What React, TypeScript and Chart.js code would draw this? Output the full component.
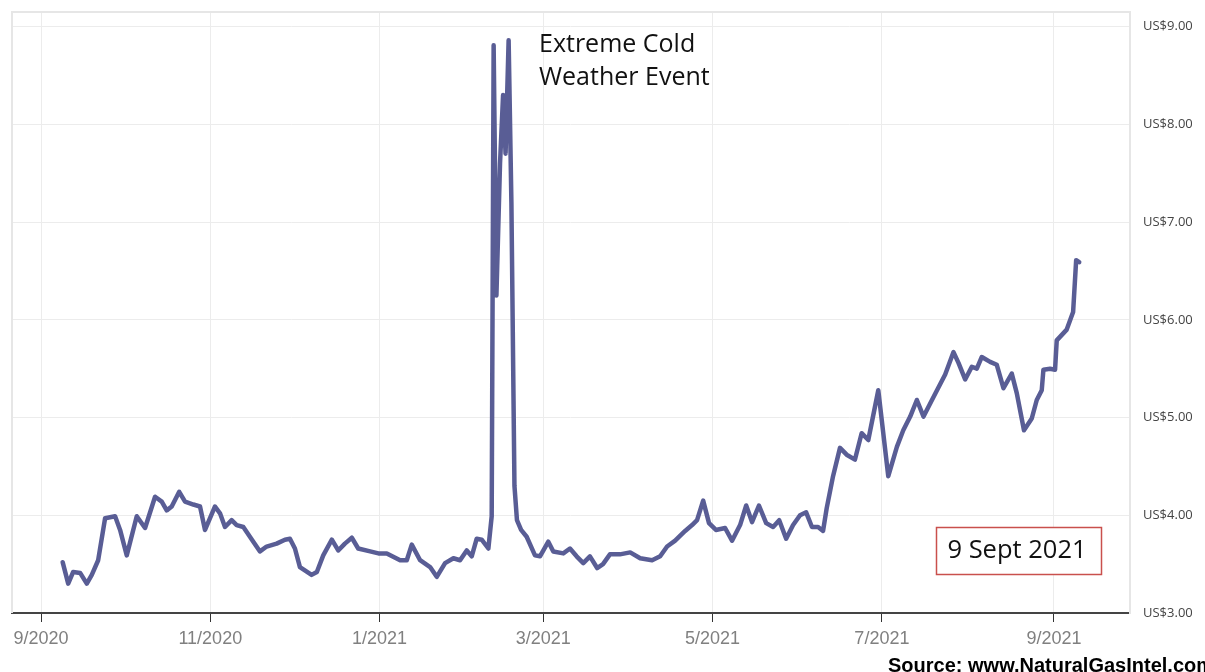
import React, { useEffect, useRef } from "react";
import { Chart, registerables } from "chart.js";

Chart.register(...registerables);

// Days since 1 Sep 2020
const dayOffsets = [
  7.8, 9.8, 11.6, 14.1, 16.5, 18.3, 20.6, 23.1, 26.7, 28.5, 30.9, 34.5, 37.5, 41.1, 43.5, 45.3, 47.1, 49.8,
  51.9, 54.9, 57.3, 59.1, 62.7, 64.5, 66.3, 68.7, 70.5, 72.9, 76.5, 78.9, 81.3, 84.9, 87.9, 89.7, 91.5,
  93.3, 97.5, 99.4, 101.7, 104.8, 107.1, 109.5, 112.0, 114.3, 118.6, 121.6, 124.6, 129.4, 131.8, 133.6,
  136.6, 140.2, 142.6, 145.6, 148.6, 151.0, 153.4, 155.2, 157.0, 158.8, 161.2, 162.4, 163.1, 164.1,
  165.4, 166.5, 167.4, 168.5, 169.5, 170.6, 171.5, 173.0, 175.0, 178.0, 179.8, 182.8, 184.6, 188.2,
  190.6, 193.0, 195.4, 197.8, 200.4, 202.5, 205.0, 208.6, 212.3, 215.9, 220.2, 223.1, 225.6, 228.5,
  232.1, 234.6, 236.4, 238.6, 240.7, 243.2, 246.5, 249.0, 251.9, 254.1, 256.2, 258.7, 261.3, 263.8,
  266.0, 268.5, 271.0, 273.5, 275.7, 277.8, 280.0, 281.8, 283.1, 285.4, 287.9, 290.3, 293.3, 295.7,
  298.1, 301.7, 305.3, 308.4, 310.7, 313.2, 315.6, 318.0, 321.6, 325.8, 328.8, 330.6, 333.0, 335.4,
  337.2, 339.0, 342.0, 344.4, 346.8, 349.8, 351.6, 354.2, 357.0, 358.8, 360.6, 361.2, 363.6, 365.4,
  366.0, 369.6, 371.9, 373.0, 374.1,
];

// Henry Hub spot price, US$/MMBtu
const prices = [
  3.52, 3.30, 3.42, 3.41, 3.30, 3.39, 3.54, 3.97, 3.99, 3.85, 3.59, 3.99, 3.87, 4.19, 4.14, 4.05, 4.09, 4.24,
  4.14, 4.11, 4.09, 3.85, 4.09, 4.02, 3.88, 3.95, 3.90, 3.88, 3.73, 3.63, 3.68, 3.71, 3.75, 3.76, 3.66,
  3.47, 3.39, 3.42, 3.59, 3.75, 3.64, 3.71, 3.77, 3.66, 3.63, 3.61, 3.61, 3.54, 3.54, 3.70,
  3.54, 3.47, 3.37, 3.51, 3.56, 3.54, 3.64, 3.58, 3.76, 3.75, 3.66, 3.99, 8.81, 6.25,
  7.6, 8.3, 7.7, 8.86, 7.2, 4.3, 3.95, 3.85, 3.78, 3.59, 3.58, 3.73, 3.63, 3.61,
  3.66, 3.58, 3.51, 3.58, 3.46, 3.50, 3.60, 3.60, 3.62, 3.56, 3.54, 3.58, 3.68, 3.74,
  3.84, 3.90, 3.95, 4.15, 3.92, 3.85, 3.87, 3.74, 3.90, 4.10, 3.93, 4.10, 3.92, 3.88,
  3.95, 3.76, 3.90, 4.00, 4.03, 3.88, 3.88, 3.84, 4.07, 4.40, 4.69, 4.62, 4.57, 4.84,
  4.77, 5.28, 4.40, 4.70, 4.87, 5.01, 5.18, 5.01, 5.21, 5.44, 5.67, 5.56, 5.39, 5.52,
  5.50, 5.62, 5.57, 5.54, 5.30, 5.45, 5.25, 4.87, 4.99, 5.18, 5.28, 5.49, 5.50, 5.49,
  5.79, 5.90, 6.08, 6.61, 6.59,
];

const tickDays = [0, 61, 122, 181, 242, 303, 365];
const tickLabels = ["9/2020", "11/2020", "1/2021", "3/2021", "5/2021", "7/2021", "9/2021"];
const yTicks = [3, 4, 5, 6, 7, 8, 9];
const annotationLines = ["Extreme Cold", "Weather Event"];
const dateBoxText = "9 Sept 2021";
const sourceText = "Source: www.NaturalGasIntel.com";

const decorPlugin = {
  id: "decor",
  beforeDatasetsDraw(chart: any) {
    const { ctx, chartArea } = chart;
    ctx.save();
    ctx.strokeStyle = "#e6e6e6";
    ctx.lineWidth = 2;
    ctx.beginPath();
    ctx.moveTo(chartArea.left, chartArea.bottom);
    ctx.lineTo(chartArea.left, chartArea.top);
    ctx.lineTo(chartArea.right, chartArea.top);
    ctx.stroke();
    ctx.restore();
  },
  afterDraw(chart: any) {
    const { ctx } = chart;
    ctx.save();
    ctx.fillStyle = "#111";
    ctx.textBaseline = "middle";
    ctx.textAlign = "left";
    ctx.font = '25px "Open Sans"';
    ctx.fillText(annotationLines[0], 539, 45);
    ctx.fillText(annotationLines[1], 539, 78);

    ctx.strokeStyle = "#c9504d";
    ctx.lineWidth = 1.5;
    ctx.fillStyle = "#fff";
    ctx.fillRect(936.5, 527.5, 165, 47);
    ctx.strokeRect(936.5, 527.5, 165, 47);
    ctx.fillStyle = "#111";
    ctx.textAlign = "center";
    ctx.font = '25.5px "Open Sans"';
    ctx.fillText(dateBoxText, 1017, 551);

    ctx.textAlign = "left";
    ctx.textBaseline = "alphabetic";
    ctx.fillStyle = "#000";
    ctx.font = 'bold 20px "Liberation Sans"';
    ctx.fillText(sourceText, 888, 672);
    ctx.restore();
  },
};

export default function App() {
  const canvasRef = useRef<HTMLCanvasElement | null>(null);

  useEffect(() => {
    if (!canvasRef.current) return;
    const chart = new Chart(canvasRef.current, {
      type: "line",
      data: {
        datasets: [
          {
            data: dayOffsets.map((d, i) => ({ x: d, y: prices[i] })),
            borderColor: "#595d95",
            borderWidth: 4.5,
            pointRadius: 0,
            tension: 0,
            borderJoinStyle: "round",
            borderCapStyle: "round",
          },
        ],
      },
      options: {
        responsive: false,
        animation: false,
        layout: { padding: { left: 12, top: 12, right: 0, bottom: 0 } },
        plugins: { legend: { display: false }, tooltip: { enabled: false } },
        scales: {
          x: {
            type: "linear",
            min: -10.45,
            max: 392.4,
            afterBuildTicks: (s: any) => {
              s.ticks = tickDays.map((v) => ({ value: v }));
            },
            afterFit: (s: any) => {
              s.height = 59;
              s.paddingLeft = 0;
              s.paddingRight = 0;
            },
            ticks: {
              autoSkip: false,
              maxRotation: 0,
              padding: 6,
              color: "#808080",
              font: { family: "Liberation Sans", size: 18 },
              callback: (_v: any, i: number) => tickLabels[i],
            },
            grid: { color: "#ececec", tickColor: "#333", tickLength: 9, lineWidth: 1 },
            border: { color: "#444", width: 2 },
          },
          y: {
            position: "right",
            min: 3,
            max: 9.15,
            afterBuildTicks: (s: any) => {
              s.ticks = yTicks.map((v) => ({ value: v }));
            },
            afterFit: (s: any) => {
              s.width = 75;
              s.paddingTop = 0;
              s.paddingBottom = 0;
            },
            ticks: {
              padding: 13,
              color: "#444",
              font: { family: "Open Sans", size: 13 },
              callback: (v: any) => "US$" + Number(v).toFixed(2),
            },
            grid: { color: "#ececec", drawTicks: false },
            border: { color: "#e6e6e6", width: 2 },
          },
        },
      },
      plugins: [decorPlugin],
    } as any);
    return () => chart.destroy();
  }, []);

  return (
    <div style={{ position: "fixed", left: 0, top: 0, width: 1205, height: 672, background: "#fff" }}>
      <canvas ref={canvasRef} width={1205} height={672} style={{ display: "block" }} />
    </div>
  );
}
